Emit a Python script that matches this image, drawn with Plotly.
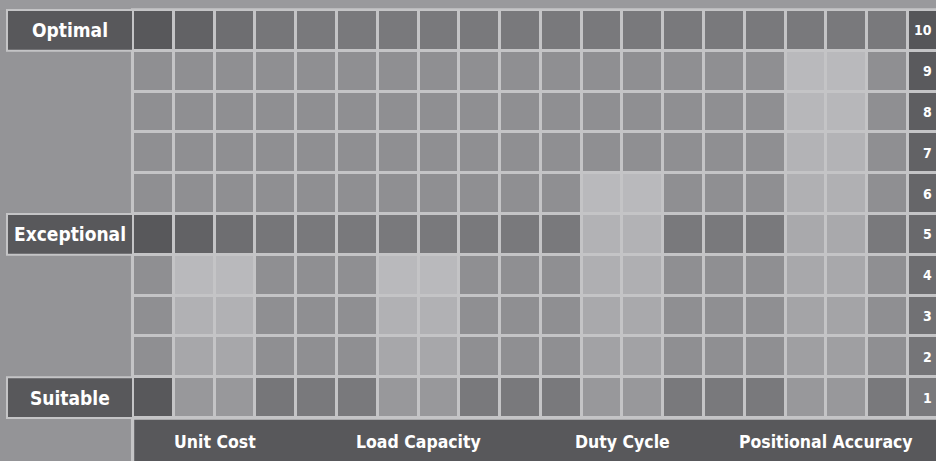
import plotly.graph_objects as go

# ---- data ----
categories = ["Unit Cost", "Load Capacity", "Duty Cycle", "Positional Accuracy"]
scores = [4, 4, 6, 9]
level_names = ["Suitable", "Exceptional", "Optimal"]
level_values = [1, 5, 10]
row_ticks = list(range(1, 11))
row_labels = [str(v) for v in row_ticks]

# ---- layout constants (style) ----
W, H = 936, 461
n_cols = 19            # grid columns, centres at 0..18
group_width = 2
group_period = 5
group_start = 1
px = 775 / n_cols      # pixels per column
py = 40.8              # pixels per row
grid_left_px, grid_top_px, grid_bottom_px = 133, 10, 418
x0 = -0.5 - grid_left_px / px
x1 = x0 + W / px
y_bottom_edge = 0.5 - (H - grid_bottom_px) / py
y_top_edge = y_bottom_edge + H / py

GRID = "#c4c4c6"
BG = "#949497"
DARK = "#58585b"
FONT = "DejaVu Sans Condensed"

top_val = max(row_ticks)
band_rows = set(level_values)
band_grad = [88, 98, 110, 118]

# map column -> category index
col_cat = {}
for i in range(len(categories)):
    for k in range(group_width):
        col_cat[group_start + group_period * i + k] = i

cols = list(range(n_cols + 1))  # last column holds the row numbers
z = []
for r in row_ticks:
    line = []
    for c in cols:
        if c == n_cols:
            g = 86 + (top_val - r) * (121 - 86) / (top_val - 1)
        elif c in col_cat and r <= scores[col_cat[c]]:
            s = scores[col_cat[c]]
            frac = (s - r) / max(s - 1, 1)
            g = 185 - 30 * frac ** 1.2
            if r in band_rows:
                g -= 3
        elif r in band_rows:
            g = band_grad[c] if c < len(band_grad) else 121
        else:
            g = 143
        line.append(g)
    z.append(line)

fig = go.Figure()
fig.add_trace(go.Heatmap(
    x=cols, y=row_ticks, z=z,
    zmin=80, zmax=200,
    colorscale=[[0, "rgb(80,80,83)"], [1, "rgb(200,200,203)"]],
    showscale=False, xgap=3, ygap=3, hoverinfo="skip",
))

shapes = []
# slightly lighter strip above the grid
shapes.append(dict(type="rect", xref="x", yref="y", x0=x0 - 1, x1=x1 + 1,
                   y0=top_val + 0.5, y1=y_top_edge + 1,
                   fillcolor="#99999c", line=dict(width=0), layer="below"))
# grid line background
shapes.append(dict(type="rect", xref="x", yref="y", x0=-0.55, x1=x1 + 1,
                   y0=y_bottom_edge - 1, y1=top_val + 0.5 + 0.04,
                   fillcolor=GRID, line=dict(width=0), layer="below"))
# bottom category band
shapes.append(dict(type="rect", xref="x", yref="y", x0=-0.5 + 0.03, x1=x1 + 1,
                   y0=y_bottom_edge - 1, y1=0.5 - 0.04,
                   fillcolor=DARK, line=dict(width=0), layer="above"))
# left level label boxes
box_left = x0 + 7 / px
for lv in level_values:
    shapes.append(dict(type="rect", xref="x", yref="y", x0=box_left, x1=-0.5,
                       y0=lv - 0.5, y1=lv + 0.5, fillcolor=DARK,
                       line=dict(color=GRID, width=2), layer="above"))

annotations = []
for i, name in enumerate(categories):
    cx = group_start + group_period * i + (group_width - 1) / 2
    annotations.append(dict(x=cx, y=(0.5 + y_bottom_edge) / 2 - 0.06, xref="x", yref="y",
                            text=name, showarrow=False,
                            font=dict(family=FONT, size=17.5, color="white", weight="bold")))
for name, lv in zip(level_names, level_values):
    annotations.append(dict(x=(box_left - 0.5) / 2, y=lv, xref="x", yref="y",
                            text=name, showarrow=False,
                            font=dict(family=FONT, size=19, color="white", weight="bold")))
for v, t in zip(row_ticks, row_labels):
    annotations.append(dict(x=x1 - 2 / px, y=v, xref="x", yref="y", xanchor="right",
                            text=t, showarrow=False,
                            font=dict(family=FONT, size=14, color="white", weight="bold")))

fig.update_layout(
    width=W, height=H,
    margin=dict(l=0, r=0, t=0, b=0),
    paper_bgcolor=BG, plot_bgcolor=BG,
    shapes=shapes, annotations=annotations,
    xaxis=dict(range=[x0, x1], visible=False, fixedrange=True),
    yaxis=dict(range=[y_bottom_edge, y_top_edge], visible=False, fixedrange=True),
    showlegend=False,
)
fig.write_html("out.html", config={"displayModeBar": False},
               post_script="document.body.style.margin='0';document.body.style.overflow='hidden';")
